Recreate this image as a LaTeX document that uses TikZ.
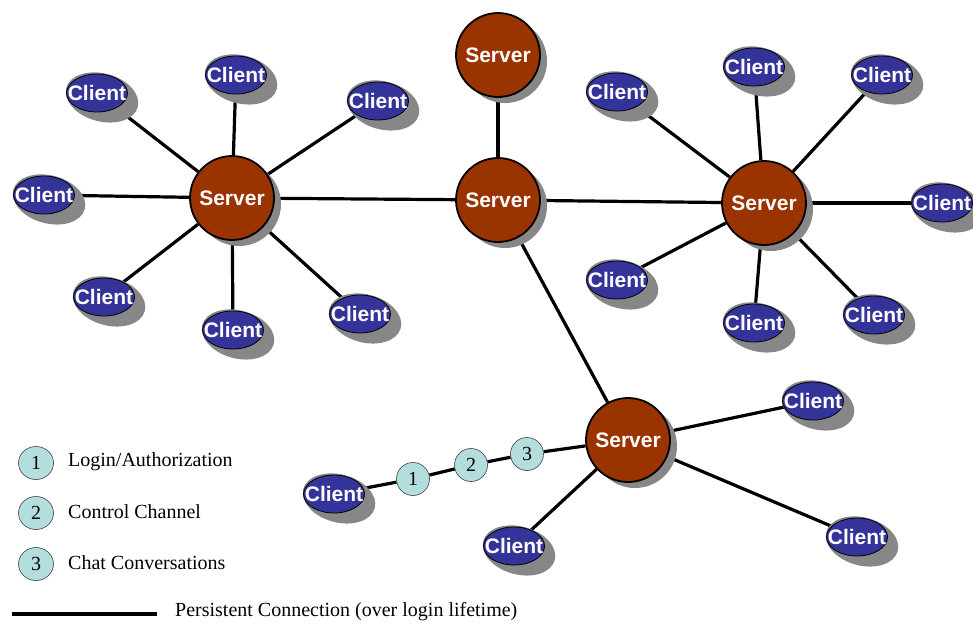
\documentclass[tikz,border=0pt]{standalone}
\usepackage{fontspec}
\setmainfont{Liberation Serif}
\setsansfont{Liberation Sans}
\usetikzlibrary{shapes.geometric}
\definecolor{srv}{RGB}{153,51,0}
\definecolor{cli}{RGB}{51,51,153}
\definecolor{shd}{RGB}{135,135,135}
\definecolor{tagfill}{RGB}{180,222,222}
\pgfdeclarelayer{edgelayer}
\pgfdeclarelayer{shadowlayer}
\pgfsetlayers{edgelayer,shadowlayer,main}
\newcommand\clientlbl{\makebox[0pt]{Client}}
\newcommand\serverlbl{\makebox[0pt]{Server}}
\tikzset{
  client/.style={ellipse, fill=cli, draw=black, line width=0.8pt,
    minimum width=61pt, minimum height=38pt, inner sep=0pt, text=white,
    font=\sffamily\bfseries\fontsize{21}{21}\selectfont},
  server/.style={circle, fill=srv, draw=black, line width=1.8pt,
    minimum size=84pt, inner sep=0pt, text=white,
    font=\sffamily\bfseries\fontsize{21}{21}\selectfont},
  tagc/.style={ellipse, fill=tagfill, draw=black!75, line width=0.6pt,
    minimum width=33pt, minimum height=33pt, inner sep=0pt,
    font=\fontsize{20}{20}\selectfont},
  legc/.style={tagc, minimum width=35pt},
  link/.style={line width=3.2pt, draw=black},
  legtext/.style={anchor=west, inner sep=0pt, font=\fontsize{20}{20}\selectfont},
  clientshadow/.style={fill=shd},
}
\begin{document}
\begin{tikzpicture}[x=1pt,y=-1pt]
\useasboundingbox (0,0) rectangle (973,624);
% servers
\node[server] (s1) at (232,198) {\serverlbl};
\node[server] (s2) at (498,200) {\serverlbl};
\node[server] (s3) at (498,55) {\serverlbl};
\node[server] (s4) at (764,203) {\serverlbl};
\node[server] (s5) at (628,440) {\serverlbl};
% left clients
\node[client] (a1) at (97,93) {\clientlbl};
\node[client] (a2) at (236,75) {\clientlbl};
\node[client] (a3) at (378,101) {\clientlbl};
\node[client] (a4) at (44,195) {\clientlbl};
\node[client] (a5) at (104,297) {\clientlbl};
\node[client] (a6) at (233,330) {\clientlbl};
\node[client] (a7) at (360,314) {\clientlbl};
% right clients
\node[client] (b1) at (617,92) {\clientlbl};
\node[client] (b2) at (754,67) {\clientlbl};
\node[client] (b3) at (882,75) {\clientlbl};
\node[client] (b4) at (942,203) {\clientlbl};
\node[client] (b5) at (617,280) {\clientlbl};
\node[client] (b6) at (754,323) {\clientlbl};
\node[client] (b7) at (874,315) {\clientlbl};
% bottom clients
\node[client] (d1) at (813,401) {\clientlbl};
\node[client] (d2) at (857,537) {\clientlbl};
\node[client] (d3) at (514,546) {\clientlbl};
\node[client] (d4) at (334,494) {\clientlbl};
% numbered tags on link
\node[tagc] (t1) at (413,479) {1};
\node[tagc] (t2) at (471,465) {2};
\node[tagc] (t3) at (527,454) {3};
% legend
\node[legc] (l1) at (36,463) {1};
\node[legc] (l2) at (36,513) {2};
\node[legc] (l3) at (36,564) {3};
\node[legtext] (lt1) at (68,462) {Login/Authorization};
\node[legtext] (lt2) at (68,512) {Control Channel};
\node[legtext] (lt3) at (68,563) {Chat Conversations};
\coordinate (la) at (12,614);
\coordinate (lb) at (157,614);
\node[legtext] (lt4) at (175,612) {Persistent Connection (over login lifetime)};
\draw[link] (la) -- (lb);
% shadows
\begin{pgfonlayer}{shadowlayer}
\foreach \n in {a1,a2,a3,a4,a5,a6,a7,b1,b2,b3,b4,b5,b6,b7,d1,d2,d3,d4}{
  \fill[clientshadow, rotate around={-15:(\n.center)}]
    ([shift={(6pt,-3pt)}]\n.center) ellipse [x radius=37pt, y radius=24pt];
}
\foreach \n in {s1,s2,s3,s4,s5}{
  \fill[clientshadow] ([shift={(7pt,-6pt)}]\n.center) circle [radius=42pt];
}
\end{pgfonlayer}
% connections
\begin{pgfonlayer}{edgelayer}
\foreach \n in {a1,a2,a3,a4,a5,a6,a7}{\draw[link] (s1) -- (\n);}
\foreach \n in {b1,b2,b3,b4,b5,b6,b7}{\draw[link] (s4) -- (\n);}
\foreach \n in {d1,d2,d3}{\draw[link] (s5) -- (\n);}
\draw[link] (s1) -- (s2);
\draw[link] (s2) -- (s3);
\draw[link] (s2) -- (s4);
\draw[link] (s2) -- (s5);
\draw[link] (d4) -- (t1) -- (t2) -- (t3) -- (s5);
\end{pgfonlayer}
\end{tikzpicture}
\end{document}
